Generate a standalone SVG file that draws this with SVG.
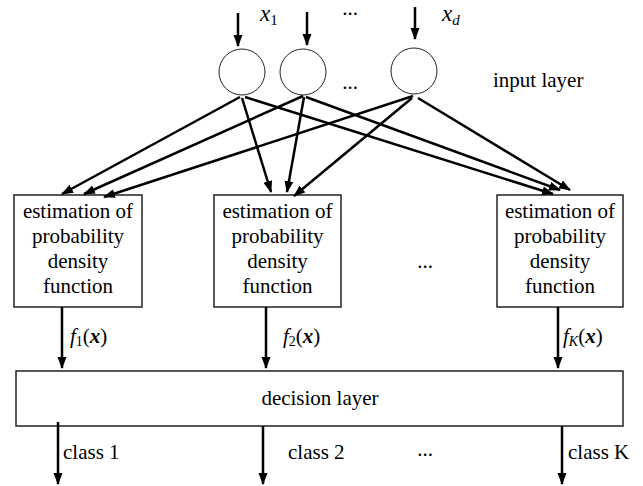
<svg xmlns="http://www.w3.org/2000/svg" width="643" height="486" viewBox="0 0 643 486" font-family="'Liberation Serif', 'Times New Roman', serif">
<style>
text{font-family:"Liberation Serif","Times New Roman",serif;fill:#000}
.t{font-size:21px}
.c{text-anchor:middle}
.box{fill:#fff;stroke:#222;stroke-width:1.5}
.circ{fill:#fff;stroke:#222;stroke-width:1}
.con line{stroke:#000;stroke-width:2.5;marker-end:url(#ah)}
</style>
<defs>
<marker id="ah" markerUnits="userSpaceOnUse" markerWidth="12" markerHeight="10" refX="11" refY="4.5" orient="auto" viewBox="0 0 12 9">
<path d="M0,0 L12,4.5 L0,9 z" fill="#000"/>
</marker>
</defs>
<rect width="643" height="486" fill="#fff"/>
<g id="input1"><circle class="circ" cx="242" cy="72" r="23"/></g>
<g id="input2"><circle class="circ" cx="303" cy="72" r="23"/></g>
<g id="input3"><circle class="circ" cx="414" cy="71" r="23"/></g>
<g id="labels-top">
<text class="t" x="260" y="21" style="font-size:23px;font-style:italic">x<tspan style="font-size:15px;font-style:normal" dy="4">1</tspan></text>
<text class="t c" x="350" y="15">...</text>
<text class="t c" x="350" y="89">...</text>
<text class="t" x="442" y="21" style="font-size:23px;font-style:italic">x<tspan style="font-size:15px" dy="4">d</tspan></text>
<text class="t" x="493" y="87">input layer</text>
</g>
<g id="pdf1"><rect class="box" x="14" y="195" width="128" height="112"/>
<text class="t c" x="78" y="218">estimation of</text><text class="t c" x="78" y="243">probability</text><text class="t c" x="78" y="268">density</text><text class="t c" x="78" y="293">function</text></g>
<g id="pdf2"><rect class="box" x="214" y="195" width="127" height="112"/>
<text class="t c" x="277.5" y="218">estimation of</text><text class="t c" x="277.5" y="243">probability</text><text class="t c" x="277.5" y="268">density</text><text class="t c" x="277.5" y="293">function</text></g>
<text class="t c" x="425" y="268">...</text>
<g id="pdf3"><rect class="box" x="497" y="195" width="126" height="112"/>
<text class="t c" x="560" y="218">estimation of</text><text class="t c" x="560" y="243">probability</text><text class="t c" x="560" y="268">density</text><text class="t c" x="560" y="293">function</text></g>
<g id="decision"><rect class="box" x="16" y="371" width="607" height="55"/>
<text class="t c" x="320" y="405">decision layer</text></g>
<g id="flabels">
<text class="t" x="70" y="343"><tspan font-style="italic">f</tspan><tspan style="font-size:14px" dy="3">1</tspan><tspan dy="-3">(</tspan><tspan font-style="italic" font-weight="bold">x</tspan>)</text>
<text class="t" x="283" y="343"><tspan font-style="italic">f</tspan><tspan style="font-size:14px" dy="3">2</tspan><tspan dy="-3">(</tspan><tspan font-style="italic" font-weight="bold">x</tspan>)</text>
<text class="t" x="563" y="343"><tspan font-style="italic">f</tspan><tspan style="font-size:14px;font-style:italic" dy="3">K</tspan><tspan dy="-3">(</tspan><tspan font-style="italic" font-weight="bold">x</tspan>)</text>
</g>
<g id="classlabels">
<text class="t" x="63" y="459">class 1</text>
<text class="t" x="288" y="459">class 2</text>
<text class="t c" x="425" y="456">...</text>
<text class="t" x="568" y="459">class K</text>
</g>
<g id="connectors" class="con">
<line x1="238" y1="13" x2="238" y2="46"/>
<line x1="307" y1="12" x2="307" y2="45"/>
<line x1="415" y1="7" x2="415" y2="39"/>
<line x1="240" y1="97" x2="62" y2="194"/>
<line x1="303" y1="96" x2="84" y2="194"/>
<line x1="413" y1="96" x2="104" y2="197"/>
<line x1="242" y1="98" x2="271" y2="192"/>
<line x1="304" y1="97" x2="287" y2="192"/>
<line x1="412" y1="98" x2="294" y2="196"/>
<line x1="245" y1="97" x2="553" y2="194"/>
<line x1="306" y1="97" x2="560" y2="190"/>
<line x1="418" y1="98" x2="570" y2="190"/>
<line x1="62" y1="307" x2="62" y2="368"/>
<line x1="266" y1="307" x2="266" y2="368"/>
<line x1="558" y1="307" x2="558" y2="368"/>
<line x1="58" y1="422" x2="58" y2="484"/>
<line x1="263" y1="426" x2="263" y2="484"/>
<line x1="562" y1="426" x2="562" y2="484"/>
</g>
</svg>
